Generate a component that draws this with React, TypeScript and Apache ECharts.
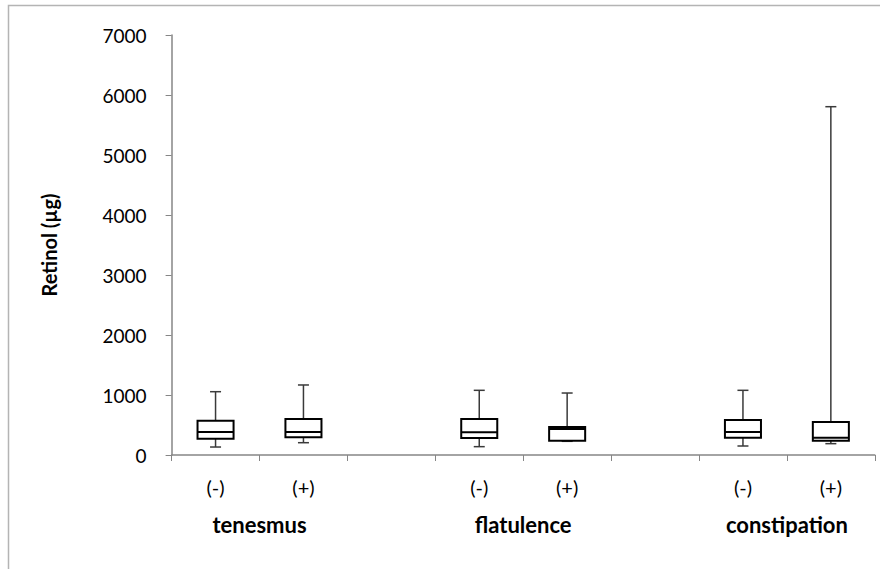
import React, { useEffect, useRef } from "react";
import * as echarts from "echarts";

const categories = ["(-)", "(+)", "", "(-)", "(+)", "", "(-)", "(+)"];
const groupLabels = ["", "tenesmus", "", "", "flatulence", "", "", "constipation", ""];
const boxMin = [133, 205, null, 139, 228, null, 150, 189];
const boxQ1 = [272, 295, null, 283, 239, null, 289, 239];
const boxMedian = [383, 383, null, 378, 433, null, 383, 289];
const boxQ3 = [572, 600, null, 600, 467, null, 583, 550];
const boxMax = [1055, 1167, null, 1078, 1033, null, 1078, 5805];
const yTicks = { min: 0, max: 7000, interval: 1000 };

const FONT = "Lato";
const AXIS = "#868686";

export default function App() {
  const ref = useRef<HTMLDivElement>(null);
  useEffect(() => {
    if (!ref.current) return;
    const chart = echarts.init(ref.current, undefined, { renderer: "svg" });
    const data: any[] = [];
    categories.forEach((_, i) => {
      if (boxMin[i] == null) return;
      data.push([i, boxMin[i], boxQ1[i], boxMedian[i], boxQ3[i], boxMax[i]]);
    });
    const option: any = {
      animation: false,
      backgroundColor: "#fff",
      graphic: [
        {
          type: "rect",
          shape: { x: 8.5, y: 5.5, width: 1000, height: 1000 },
          style: { fill: "none", stroke: "#b4b4b4", lineWidth: 1.5 },
          silent: true,
          z: -10,
        },
      ],
      grid: { left: 171.6, top: 35, right: 5.2, bottom: 114, containLabel: false },
      xAxis: [
        {
          type: "category",
          data: categories,
          axisLine: { lineStyle: { color: AXIS, width: 1.5 } },
          axisTick: { show: true, length: 6, lineStyle: { color: AXIS, width: 1 } },
          axisLabel: {
            interval: 0,
            margin: 22,
            color: "#000",
            fontFamily: FONT,
            fontSize: 20,
          },
          splitLine: { show: false },
        },
        {
          type: "category",
          data: groupLabels,
          boundaryGap: false,
          position: "bottom",
          axisLine: { show: false },
          axisTick: { show: false },
          axisLabel: {
            interval: 0,
            margin: 58,
            color: "#000",
            fontFamily: FONT,
            fontSize: 22,
            fontWeight: "bold",
          },
          splitLine: { show: false },
        },
      ],
      yAxis: {
        type: "value",
        min: yTicks.min,
        max: yTicks.max,
        interval: yTicks.interval,
        name: "Retinol (µg)",
        nameLocation: "middle",
        nameGap: 113,
        nameTextStyle: { color: "#000", fontFamily: FONT, fontSize: 20, fontWeight: "bold" },
        axisLine: { show: true, lineStyle: { color: AXIS, width: 1.5 } },
        axisTick: { show: true, length: 6, lineStyle: { color: AXIS, width: 1 } },
        axisLabel: {
          margin: 25,
          color: "#000",
          fontFamily: FONT,
          fontSize: 19,
          formatter: (v: number) => String(v),
        },
        splitLine: { show: false },
      },
      series: [
        {
          type: "custom",
          xAxisIndex: 0,
          yAxisIndex: 0,
          data,
          encode: { x: 0, y: [1, 2, 3, 4, 5] },
          renderItem: (params: any, api: any) => {
            const x = api.value(0);
            const pMin = api.coord([x, api.value(1)]);
            const pQ1 = api.coord([x, api.value(2)]);
            const pMed = api.coord([x, api.value(3)]);
            const pQ3 = api.coord([x, api.value(4)]);
            const pMax = api.coord([x, api.value(5)]);
            const half = api.size([1, 0])[0] * 0.205;
            const cap = 5.5;
            const cx = pMed[0];
            const ws = { stroke: "#3a3a3a", lineWidth: 1.5 };
            return {
              type: "group",
              children: [
                { type: "line", shape: { x1: cx, y1: pMax[1], x2: cx, y2: pQ3[1] }, style: ws },
                { type: "line", shape: { x1: cx - cap, y1: pMax[1], x2: cx + cap, y2: pMax[1] }, style: ws },
                { type: "line", shape: { x1: cx, y1: pMin[1], x2: cx, y2: pQ1[1] }, style: ws },
                { type: "line", shape: { x1: cx - cap, y1: pMin[1], x2: cx + cap, y2: pMin[1] }, style: ws },
                {
                  type: "rect",
                  shape: { x: cx - half, y: pQ3[1], width: half * 2, height: pQ1[1] - pQ3[1] },
                  style: { fill: "#fff", stroke: "#000", lineWidth: 2 },
                },
                {
                  type: "line",
                  shape: { x1: cx - half, y1: pMed[1], x2: cx + half, y2: pMed[1] },
                  style: { stroke: "#000", lineWidth: 2 },
                },
              ],
            };
          },
        },
      ],
    };
    chart.setOption(option);
    return () => chart.dispose();
  }, []);
  return (
    <div
      ref={ref}
      style={{ position: "fixed", left: 0, top: 0, width: 880, height: 569, background: "#fff" }}
    />
  );
}
